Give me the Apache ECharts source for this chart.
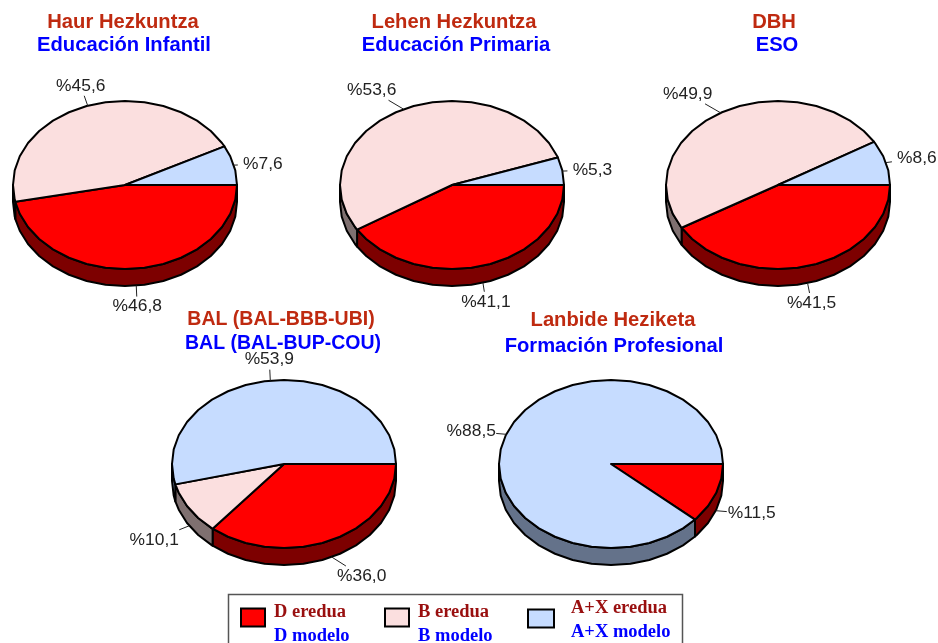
<!DOCTYPE html>
<html>
<head>
<meta charset="utf-8">
<style>html,body{margin:0;padding:0;background:#fff}#chart{width:938px;height:643px}</style>
<script src="https://cdn.jsdelivr.net/npm/echarts@6/dist/echarts.min.js"></script>
</head>
<body>
<div id="chart"></div>
<script>
// School stages, in Basque and in Spanish
const stagesEu = ['Haur Hezkuntza', 'Lehen Hezkuntza', 'DBH', 'BAL (BAL-BBB-UBI)', 'Lanbide Heziketa'];
const stagesEs = ['Educación Infantil', 'Educación Primaria', 'ESO', 'BAL (BAL-BUP-COU)', 'Formación Profesional'];

// Share of pupils per language model, one value per stage
const modelD = [46.8, 41.1, 41.5, 36.0, 11.5];
const modelB = [45.6, 53.6, 49.9, 10.1, 0];
const modelAX = [7.6, 5.3, 8.6, 53.9, 88.5];

const modelNamesEu = ['D eredua', 'B eredua', 'A+X eredua'];
const modelNamesEs = ['D modelo', 'B modelo', 'A+X modelo'];

// Layout of the five discs
const centers = [[125, 185], [452, 185], [778, 185], [284, 464], [611, 464]];
const radiusX = 112, radiusY = 84, depth = 17, facetDeg = 10;
const titleCentersEu = [[123, 22], [454, 22], [774, 22], [281, 320], [613, 320]];
const titleCentersEs = [[124, 45], [456, 45], [777, 45], [283, 344], [614, 346]];
const titleSizes = [20.2, 20.2, 20.2, 19.5, 20.2];

// Offset of each value label from its point on the rim
const labelOffsets = [
  [[1, 21], [3, 19], [4, 20], [30, 19], [36, 3]],
  [[-7, -20], [-32, -19], [-33, -19], [-35, 14], [0, 0]],
  [[29, -1], [30, -1], [31, -4], [-1, -21], [-35, -3]]
];

const topColors = ['#ff0000', '#fbdfdf', '#c6dcff'];
const sideColors = ['#7d0000', '#7f7070', '#64728a'];
const allModels = [modelD, modelB, modelAX];

function rimPoint(c, deg, drop) {
  const a = deg * Math.PI / 180;
  return [c[0] + radiusX * Math.cos(a), c[1] + radiusY * Math.sin(a) + (drop || 0)];
}

// Rim vertices between two angles, on a fixed facet grid
function arcPoints(c, from, to, drop) {
  const pts = [rimPoint(c, from, drop)];
  let d = (Math.floor(from / facetDeg) + 1) * facetDeg;
  for (; d < to - 0.01; d += facetDeg) pts.push(rimPoint(c, d, drop));
  pts.push(rimPoint(c, to, drop));
  return pts;
}

function makeRenderItem(modelIndex) {
  return function (params, api) {
    const pie = params.dataIndex;
    const value = api.value(0);
    if (!value) return { type: 'group', children: [] };
    const c = centers[pie];
    let total = 0, before = 0;
    allModels.forEach(function (m, i) {
      total += m[pie];
      if (i < modelIndex) before += m[pie];
    });
    const start = before / total * 360;
    const end = (before + value) / total * 360;
    const mid = (start + end) / 2;
    const children = [];

    // Visible wall: only the front half of the disc shows its side
    const wallFrom = Math.max(start, 0), wallTo = Math.min(end, 180);
    if (wallTo > wallFrom) {
      const upper = arcPoints(c, wallFrom, wallTo, 0);
      const lower = arcPoints(c, wallFrom, wallTo, depth).reverse();
      children.push({
        type: 'polygon', z2: 1, shape: { points: upper.concat(lower) },
        style: { fill: sideColors[modelIndex], stroke: '#000', lineWidth: 2, lineJoin: 'round' }
      });
    }

    // Top face
    children.push({
      type: 'polygon', z2: 2, shape: { points: [c].concat(arcPoints(c, start, end, 0)) },
      style: { fill: topColors[modelIndex], stroke: '#000', lineWidth: 2, lineJoin: 'round' }
    });

    // Leader line and value label
    const front = mid > 0 && mid < 180;
    const anchor = rimPoint(c, mid, front ? depth : 0);
    const off = labelOffsets[modelIndex][pie];
    const tx = anchor[0] + off[0], ty = anchor[1] + off[1];
    const scale = Math.max(Math.abs(off[0]) / 25, Math.abs(off[1]) / 10, 1);
    const k = 1 - 1 / scale;
    children.push({
      type: 'line', z2: 3,
      shape: { x1: anchor[0], y1: anchor[1], x2: anchor[0] + off[0] * k, y2: anchor[1] + off[1] * k },
      style: { stroke: '#222', lineWidth: 1 }
    });
    children.push({
      type: 'text', z2: 4,
      style: {
        x: tx, y: ty, text: '%' + value.toFixed(1).replace('.', ','),
        textAlign: 'center', textVerticalAlign: 'middle',
        font: '17.4px "Liberation Sans", Arial, sans-serif', fill: '#222'
      }
    });
    return { type: 'group', children: children };
  };
}

const titles = [];
stagesEu.forEach(function (s, i) {
  titles.push({
    text: s, left: titleCentersEu[i][0], top: titleCentersEu[i][1] - 10, textAlign: 'center', padding: 0,
    textStyle: { color: '#bf2a10', fontFamily: 'Liberation Sans', fontWeight: 'bold', fontSize: titleSizes[i], lineHeight: 20 }
  });
  titles.push({
    text: stagesEs[i], left: titleCentersEs[i][0], top: titleCentersEs[i][1] - 10, textAlign: 'center', padding: 0,
    textStyle: { color: '#0000ff', fontFamily: 'Liberation Sans', fontWeight: 'bold', fontSize: titleSizes[i], lineHeight: 20 }
  });
});

const legendLefts = [240, 384, 527];
const legendWidths = [24, 24, 26];
const legendTops = [589, 589, 595];
const legendPads = [14, 14, 4];
const legendGaps = [9, 9, 17];

const option = {
  animation: false,
  backgroundColor: '#fff',
  title: titles,
  graphic: [{
    type: 'rect', z: -1, shape: { x: 228.5, y: 594.5, width: 454, height: 70 },
    style: { fill: '#fff', stroke: '#555', lineWidth: 1.5 }
  }],
  legend: modelNamesEu.map(function (name, i) {
    const pad = legendPads[i];
    return {
      data: [name], left: legendLefts[i], top: legendTops[i], padding: 0,
      selectedMode: false, icon: 'rect',
      itemWidth: legendWidths[i], itemHeight: 18, itemGap: 0,
      itemStyle: { borderColor: '#000', borderWidth: 2 },
      formatter: function () { return '{a|' + name + '}\n{b|' + modelNamesEs[i] + '}'; },
      textStyle: {
        padding: [0, 0, 0, legendGaps[i] - 5],
        rich: {
          a: { color: '#990f0f', fontFamily: 'Liberation Serif', fontWeight: 'bold', fontSize: 18.5, lineHeight: 24 + pad, padding: [pad, 0, 0, 0] },
          b: { color: '#0000ff', fontFamily: 'Liberation Serif', fontWeight: 'bold', fontSize: 18.5, lineHeight: 24 }
        }
      }
    };
  }),
  series: allModels.map(function (values, i) {
    return {
      type: 'custom', name: modelNamesEu[i], coordinateSystem: 'none', silent: true,
      itemStyle: { color: topColors[i] },
      data: values.map(function (v) { return [v]; }),
      renderItem: makeRenderItem(i)
    };
  })
};

echarts.init(document.getElementById('chart'), null, { renderer: 'canvas' }).setOption(option);
</script>
</body>
</html>
